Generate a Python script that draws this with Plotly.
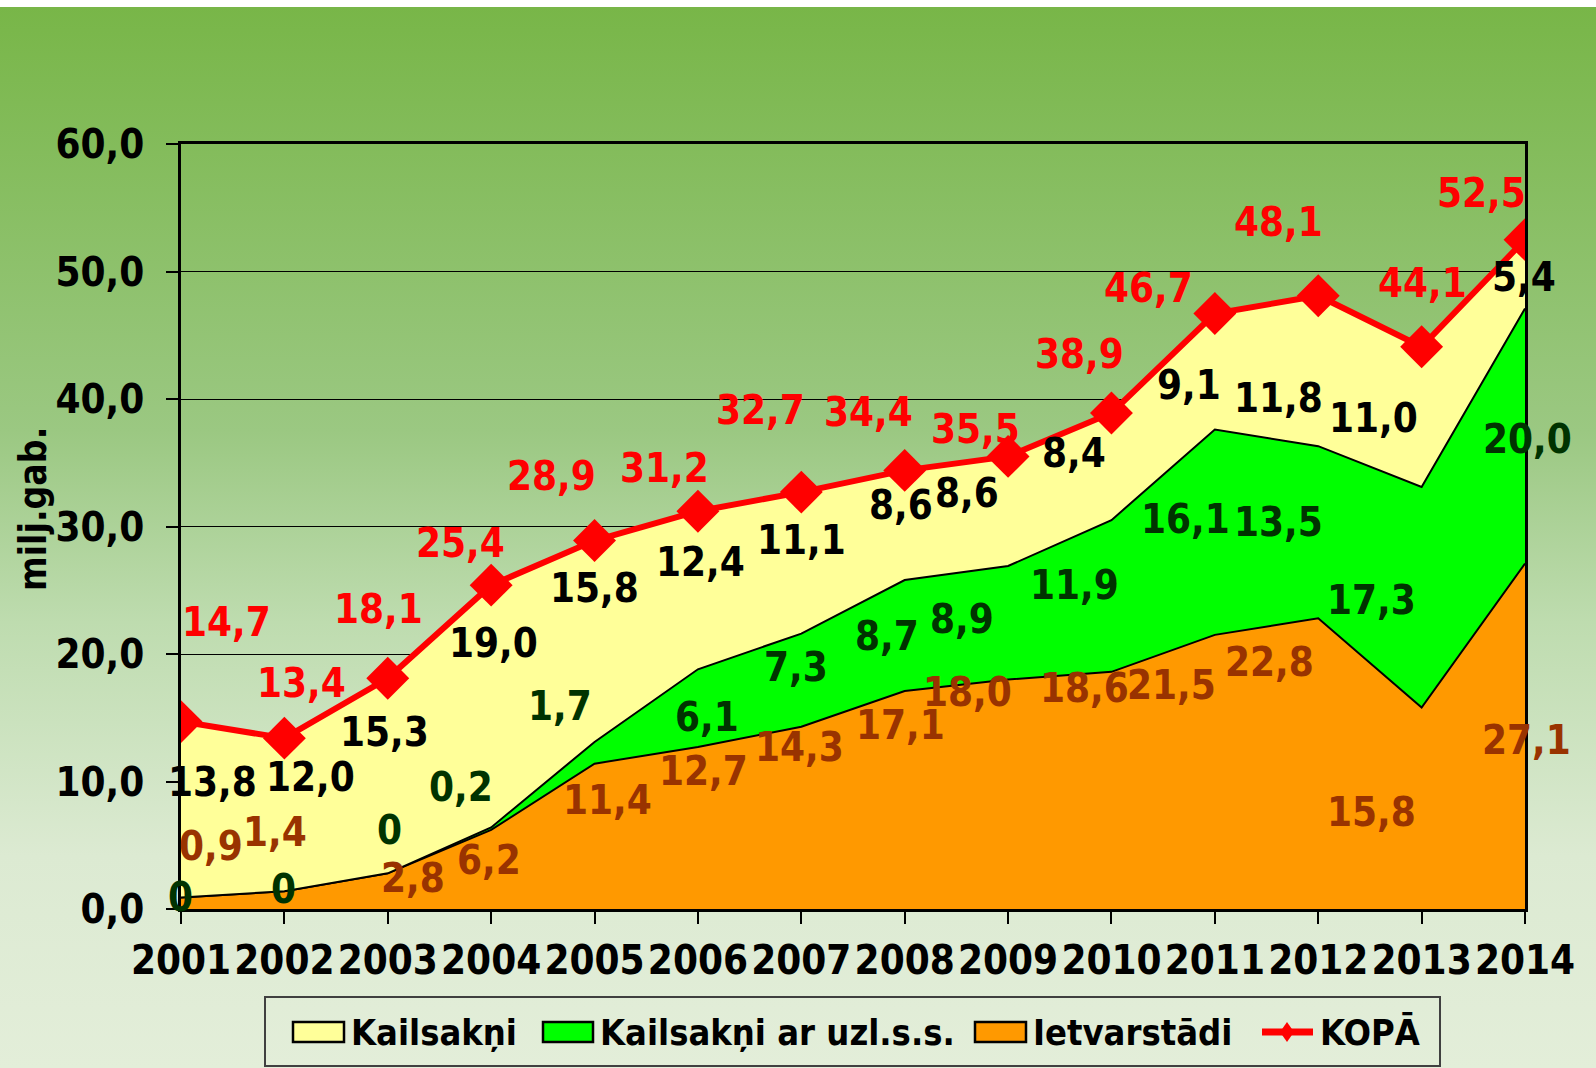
import base64
import plotly.graph_objects as go

# ---------------- data ----------------
years = [2001, 2002, 2003, 2004, 2005, 2006, 2007, 2008, 2009, 2010, 2011, 2012, 2013, 2014]
ietvarstadi = [0.9, 1.4, 2.8, 6.2, 11.4, 12.7, 14.3, 17.1, 18.0, 18.6, 21.5, 22.8, 15.8, 27.1]
kailsakni_uzl = [0, 0, 0, 0.2, 1.7, 6.1, 7.3, 8.7, 8.9, 11.9, 16.1, 13.5, 17.3, 20.0]
kailsakni = [13.8, 12.0, 15.3, 19.0, 15.8, 12.4, 11.1, 8.6, 8.6, 8.4, 9.1, 11.8, 11.0, 5.4]
kopa = [14.7, 13.4, 18.1, 25.4, 28.9, 31.2, 32.7, 34.4, 35.5, 38.9, 46.7, 48.1, 44.1, 52.5]

series_names = ["Kailsakņi", "Kailsakņi ar uzl.s.s.", "Ietvarstādi", "KOPĀ"]
y_title = "milj.gab."

# label pixel offsets (layout only)
tot_dx = [45, 17, -9, -31, -43, -33, -41, -36, -33, -32, -66, -40, 1, -44]
tot_dy = [100, 55, 69, 42, 65, 43, 82, 58, 27, 59, 26, 74, 64, 47]
ora_dx = [30, -9, 25, -2, 13, 6, -2, -4, -41, -27, -43, -49, -50, 1]
ora_dy = [57, 68, 13, 9, 36, 57, 71, 75, 102, 102, 87, 102, -4, -4]
grn_dx = [-1, -1, 2, -30, -35, 9, -5, -18, -46, -37, -29, -40, -50, 2]
grn_dy = [1, 2, 43, 42, 47, -9, 13, 0, 4, 11, 13, 10, -3, -3]
yel_dx = [31, 26, -3, 2, 0, 3, 0, -4, -41, -37, -26, -40, -48, -1]
yel_dy = [28, 38, 44, 63, 53, 28, 23, 20, 18, 14, -13, -27, -1, -3]

# ---------------- geometry ----------------
FW, FH = 1596, 1068
ML, MR, MT, MB = 181, 71, 144, 159
PW, PH = FW - ML - MR, FH - MT - MB


def px2x(px):
    return (px - ML) / PW


def py2y(py):
    return (FH - MB - py) / PH


FONT = "DejaVu Sans Condensed, DejaVu Sans, sans-serif"
C_YEL, C_GRN, C_ORA, C_RED = "#FFFF99", "#00FF00", "#FF9900", "#FF0000"

# gradient background as svg
svg = f'''<svg xmlns="http://www.w3.org/2000/svg" width="{FW}" height="{FH-7}" viewBox="0 0 {FW} {FH-7}" preserveAspectRatio="none">
<defs><linearGradient id="g" x1="0" y1="0" x2="0" y2="1">
<stop offset="0" stop-color="rgb(120,182,72)"/>
<stop offset="0.40" stop-color="rgb(155,200,130)"/>
<stop offset="0.58" stop-color="rgb(190,220,175)"/>
<stop offset="0.80" stop-color="rgb(220,234,210)"/>
<stop offset="1" stop-color="rgb(227,238,217)"/>
</linearGradient></defs>
<rect x="0" y="0" width="{FW}" height="{FH-7}" fill="url(#g)"/></svg>'''
svg_uri = "data:image/svg+xml;base64," + base64.b64encode(svg.encode()).decode()

fig = go.Figure()
fig.add_trace(go.Scatter(x=years, y=ietvarstadi, name=series_names[2], stackgroup="s",
                         mode="lines", line=dict(color="black", width=2), fillcolor=C_ORA))
fig.add_trace(go.Scatter(x=years, y=kailsakni_uzl, name=series_names[1], stackgroup="s",
                         mode="lines", line=dict(color="black", width=2), fillcolor=C_GRN))
fig.add_trace(go.Scatter(x=years, y=kailsakni, name=series_names[0], stackgroup="s",
                         mode="lines", line=dict(color="black", width=1.5), fillcolor=C_YEL))
fig.add_trace(go.Scatter(x=years, y=kopa, name=series_names[3], mode="lines+markers",
                         line=dict(color=C_RED, width=6),
                         marker=dict(symbol="diamond", size=33, color=C_RED)))


def fmt(v):
    return "0" if v == 0 else f"{v:.1f}".replace(".", ",")


ann = []


def add_labels(vals, anchors, dxs, dys, color):
    for yr, v, a, dx, dy in zip(years, vals, anchors, dxs, dys):
        ann.append(dict(x=yr, y=a, xref="x", yref="y", text=fmt(v), showarrow=False,
                        xanchor="center", yanchor="middle", xshift=dx, yshift=dy,
                        font=dict(family=FONT, size=40, color=color, weight="bold")))


ora_mid = [o / 2 for o in ietvarstadi]
grn_mid = [o + g / 2 for o, g in zip(ietvarstadi, kailsakni_uzl)]
yel_mid = [o + g + k / 2 for o, g, k in zip(ietvarstadi, kailsakni_uzl, kailsakni)]
add_labels(ietvarstadi, ora_mid, ora_dx, ora_dy, "#993300")
add_labels(kailsakni_uzl, grn_mid, grn_dx, grn_dy, "#003300")
add_labels(kailsakni, yel_mid, yel_dx, yel_dy, "#000000")
add_labels(kopa, kopa, tot_dx, tot_dy, C_RED)

# y-axis title
ann.append(dict(x=px2x(33), y=py2y(509), xref="paper", yref="paper", text=y_title,
                showarrow=False, textangle=-90, xanchor="center", yanchor="middle",
                font=dict(family=FONT, size=37, color="black", weight="bold")))

# manual legend
shapes = []
shapes.append(dict(type="rect", xref="paper", yref="paper", x0=px2x(265), x1=px2x(1440),
                   y0=py2y(997), y1=py2y(1066), line=dict(color="#404040", width=2),
                   fillcolor="rgba(0,0,0,0)"))
leg_items = [(series_names[0], C_YEL, 293, 344, 349),
             (series_names[1], C_GRN, 543, 593, 598),
             (series_names[2], C_ORA, 975, 1026, 1031)]
LY = 1032
for name, col, x0, x1, tx in leg_items:
    shapes.append(dict(type="rect", xref="paper", yref="paper", x0=px2x(x0), x1=px2x(x1),
                       y0=py2y(LY + 10), y1=py2y(LY - 10), line=dict(color="black", width=2.5),
                       fillcolor=col))
    ann.append(dict(x=px2x(tx), y=py2y(LY), xref="paper", yref="paper", text=name,
                    showarrow=False, xanchor="left", yanchor="middle",
                    font=dict(family=FONT, size=36, color="black", weight="bold")))
shapes.append(dict(type="line", xref="paper", yref="paper", x0=px2x(1262), x1=px2x(1313),
                   y0=py2y(LY), y1=py2y(LY), line=dict(color=C_RED, width=7)))
d = 10
shapes.append(dict(type="path", xref="paper", yref="paper",
                   path=f"M {px2x(1287)} {py2y(LY - d)} L {px2x(1287 + d * 0.7)} {py2y(LY)} "
                        f"L {px2x(1287)} {py2y(LY + d)} L {px2x(1287 - d * 0.7)} {py2y(LY)} Z",
                   fillcolor=C_RED, line=dict(color=C_RED, width=0)))
ann.append(dict(x=px2x(1318), y=py2y(LY), xref="paper", yref="paper", text=series_names[3],
                showarrow=False, xanchor="left", yanchor="middle",
                font=dict(family=FONT, size=36, color="black", weight="bold")))

fig.update_layout(
    width=FW, height=FH,
    margin=dict(l=ML, r=MR, t=MT, b=MB, pad=0),
    paper_bgcolor="white", plot_bgcolor="rgba(0,0,0,0)",
    separators=", ",
    showlegend=False,
    annotations=ann,
    shapes=shapes,
    images=[dict(source=svg_uri, xref="paper", yref="paper", x=px2x(0), y=py2y(7),
                 sizex=FW / PW, sizey=(FH - 7) / PH, xanchor="left", yanchor="top",
                 sizing="stretch", layer="below")],
    xaxis=dict(range=[2001, 2014], tickvals=years, ticktext=[str(y) for y in years],
               tickfont=dict(family=FONT, size=40, color="black", weight="bold"),
               tickangle=0,
               ticks="outside", ticklen=12, tickwidth=1.5, tickcolor="black",
               showline=True, linecolor="black", linewidth=2.5, mirror=True,
               showgrid=False, zeroline=False, ticklabelstandoff=2),
    yaxis=dict(range=[0, 60], dtick=10, tickformat=".1f",
               tickfont=dict(family=FONT, size=40, color="black", weight="bold"),
               ticks="outside", ticklen=12, tickwidth=1.5, tickcolor="black",
               showline=True, linecolor="black", linewidth=2.5, mirror=True,
               showgrid=True, gridcolor="black", gridwidth=1, zeroline=False,
               ticklabelstandoff=14),
)

fig.write_html("out.html", config={"displayModeBar": False},
               post_script="document.body.style.margin='0px';document.body.style.overflow='hidden';")
